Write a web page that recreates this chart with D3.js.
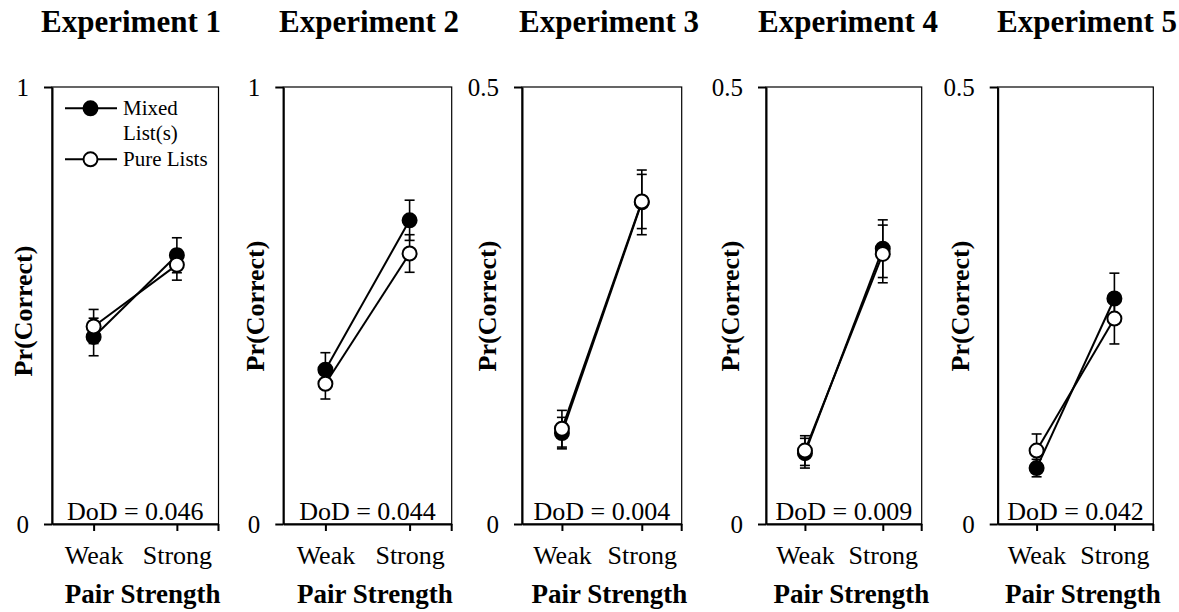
<!DOCTYPE html>
<html>
<head>
<meta charset="utf-8">
<script src="https://cdn.jsdelivr.net/npm/d3@7"></script>
<style>
  html, body { margin: 0; padding: 0; background: #fff; }
  svg { display: block; }
</style>
</head>
<body>
<svg id="chart" width="1179" height="612" font-family="Liberation Serif"></svg>
<script>
// ---- data ----
const experiments = ["Experiment 1", "Experiment 2", "Experiment 3", "Experiment 4", "Experiment 5"];
const categories = ["Weak", "Strong"];
const seriesNames = ["Mixed", "Pure Lists"];
const yMax = [1, 1, 0.5, 0.5, 0.5];
const yTickLabels = [["0", "1"], ["0", "1"], ["0", "0.5"], ["0", "0.5"], ["0", "0.5"]];
const mixedValues = [[0.428, 0.615], [0.353, 0.695], [0.104, 0.368], [0.081, 0.315], [0.064, 0.258]];
const pureValues  = [[0.452, 0.593], [0.321, 0.619], [0.109, 0.369], [0.084, 0.309], [0.084, 0.235]];
const mixedErrors = [[0.043, 0.040], [0.039, 0.046], [0.018, 0.037], [0.017, 0.033], [0.010, 0.029]];
const pureErrors  = [[0.039, 0.035], [0.035, 0.043], [0.021, 0.031], [0.017, 0.033], [0.019, 0.029]];
const dodLabels = ["0.046", "0.044", "0.004", "0.009", "0.042"];
const yAxisTitle = "Pr(Correct)";
const xAxisTitle = "Pair Strength";

// ---- layout ----
const FONT = "Liberation Serif";
const layout = [
  { left: 52,    right: 218.5,  titleX: 131,  yLabelX: 32,  yLabelY: 311 },
  { left: 283.3, right: 451.7,  titleX: 369,  yLabelX: 264, yLabelY: 306 },
  { left: 522,   right: 681.7,  titleX: 609,  yLabelX: 496, yLabelY: 306 },
  { left: 766,   right: 921.7,  titleX: 848,  yLabelX: 739, yLabelY: 306 },
  { left: 997.7, right: 1153.3, titleX: 1087, yLabelX: 969, yLabelY: 306 }
];
const plotTop = 87, plotBottom = 524;

const svg = d3.select("#chart");

experiments.forEach((title, i) => {
  const L = layout[i];
  const g = svg.append("g");
  const x = d3.scalePoint().domain(categories).range([L.left, L.right]).padding(0.5);
  const y = d3.scaleLinear().domain([0, yMax[i]]).range([plotBottom, plotTop]);

  // plot area border
  g.append("rect")
    .attr("x", L.left).attr("y", plotTop)
    .attr("width", L.right - L.left).attr("height", plotBottom - plotTop)
    .attr("fill", "none").attr("stroke", "#000").attr("stroke-width", 1.2);

  // title
  g.append("text").attr("x", L.titleX).attr("y", 32)
    .attr("font-family", FONT)
    .attr("text-anchor", "middle").attr("font-weight", "bold")
    .attr("font-size", 31).text(title);

  // y axis
  const yAxis = d3.axisLeft(y).tickValues([0, yMax[i]])
    .tickFormat((d, k) => yTickLabels[i][k])
    .tickSize(8).tickSizeOuter(0).tickPadding(15);
  const ya = g.append("g").attr("transform", `translate(${L.left},0)`).call(yAxis);
  ya.attr("font-family", FONT);
  ya.selectAll("path").attr("stroke", "#000").attr("stroke-width", 2);
  ya.selectAll("line").attr("stroke", "#000").attr("stroke-width", 2);
  ya.selectAll("text").attr("font-size", 25).attr("font-family", FONT);

  // x axis
  const xAxis = d3.axisBottom(x).tickSize(7).tickSizeOuter(0).tickPadding(15);
  const xa = g.append("g").attr("transform", `translate(0,${plotBottom})`).call(xAxis);
  xa.attr("font-family", FONT);
  xa.selectAll("path").attr("stroke", "#000").attr("stroke-width", 2);
  xa.selectAll("line").attr("stroke", "#000").attr("stroke-width", 2);
  xa.selectAll("text").attr("font-size", 26).attr("font-family", FONT);
  // right-end tick
  xa.append("line").attr("x1", L.right).attr("x2", L.right)
    .attr("y1", 0).attr("y2", 7).attr("stroke", "#000").attr("stroke-width", 2);

  // y axis title
  g.append("text")
    .attr("transform", `translate(${L.yLabelX},${L.yLabelY}) rotate(-90)`)
    .attr("font-family", FONT)
    .attr("text-anchor", "middle").attr("font-weight", "bold")
    .attr("font-size", 26).text(yAxisTitle);

  // x axis title
  g.append("text").attr("x", (L.left + L.right) / 2 + 7.5).attr("y", 603)
    .attr("font-family", FONT)
    .attr("text-anchor", "middle").attr("font-weight", "bold")
    .attr("font-size", 27).text(xAxisTitle);

  // DoD label
  g.append("text").attr("x", (L.left + L.right) / 2).attr("y", 520)
    .attr("font-family", FONT)
    .attr("text-anchor", "middle").attr("font-size", 26)
    .text("DoD = " + dodLabels[i]);

  const series = [
    { vals: mixedValues[i], errs: mixedErrors[i], fill: "#000" },
    { vals: pureValues[i],  errs: pureErrors[i],  fill: "#fff" }
  ];

  // error bars
  series.forEach(s => {
    const pts = categories.map((c, k) => ({ c, v: s.vals[k], e: s.errs[k] }));
    const eg = g.append("g").attr("stroke", "#000").attr("stroke-width", 1.6);
    eg.selectAll("line.v").data(pts).join("line")
      .attr("x1", d => x(d.c)).attr("x2", d => x(d.c))
      .attr("y1", d => y(d.v - d.e)).attr("y2", d => y(d.v + d.e));
    eg.selectAll("line.t").data(pts).join("line")
      .attr("x1", d => x(d.c) - 5).attr("x2", d => x(d.c) + 5)
      .attr("y1", d => y(d.v + d.e)).attr("y2", d => y(d.v + d.e));
    eg.selectAll("line.b").data(pts).join("line")
      .attr("x1", d => x(d.c) - 5).attr("x2", d => x(d.c) + 5)
      .attr("y1", d => y(d.v - d.e)).attr("y2", d => y(d.v - d.e));
  });

  // lines and markers
  const line = d3.line().x(d => x(d.c)).y(d => y(d.v));
  series.forEach(s => {
    const pts = categories.map((c, k) => ({ c, v: s.vals[k] }));
    g.append("path").datum(pts).attr("d", line)
      .attr("fill", "none").attr("stroke", "#000").attr("stroke-width", 2);
  });
  series.forEach(s => {
    const pts = categories.map((c, k) => ({ c, v: s.vals[k] }));
    g.selectAll(null).data(pts).join("circle")
      .attr("cx", d => x(d.c)).attr("cy", d => y(d.v)).attr("r", 7)
      .attr("fill", s.fill).attr("stroke", "#000").attr("stroke-width", 2);
  });

  // legend (first panel only)
  if (i === 0) {
    const lg = g.append("g");
    const rows = [
      { y: plotTop + 21.3, fill: "#000", lines: ["Mixed", "List(s)"] },
      { y: plotTop + 72.3, fill: "#fff", lines: ["Pure Lists"] }
    ];
    rows.forEach(r => {
      lg.append("line").attr("x1", L.left + 13).attr("x2", L.left + 65)
        .attr("y1", r.y).attr("y2", r.y).attr("stroke", "#000").attr("stroke-width", 2);
      lg.append("circle").attr("cx", L.left + 38.5).attr("cy", r.y).attr("r", 7)
        .attr("fill", r.fill).attr("stroke", "#000").attr("stroke-width", 2);
      r.lines.forEach((t, k) => {
        lg.append("text").attr("x", L.left + 71).attr("y", r.y + 7 + k * 25)
          .attr("font-family", FONT)
          .attr("font-size", 21).text(t);
      });
    });
  }
});
</script>
</body>
</html>
